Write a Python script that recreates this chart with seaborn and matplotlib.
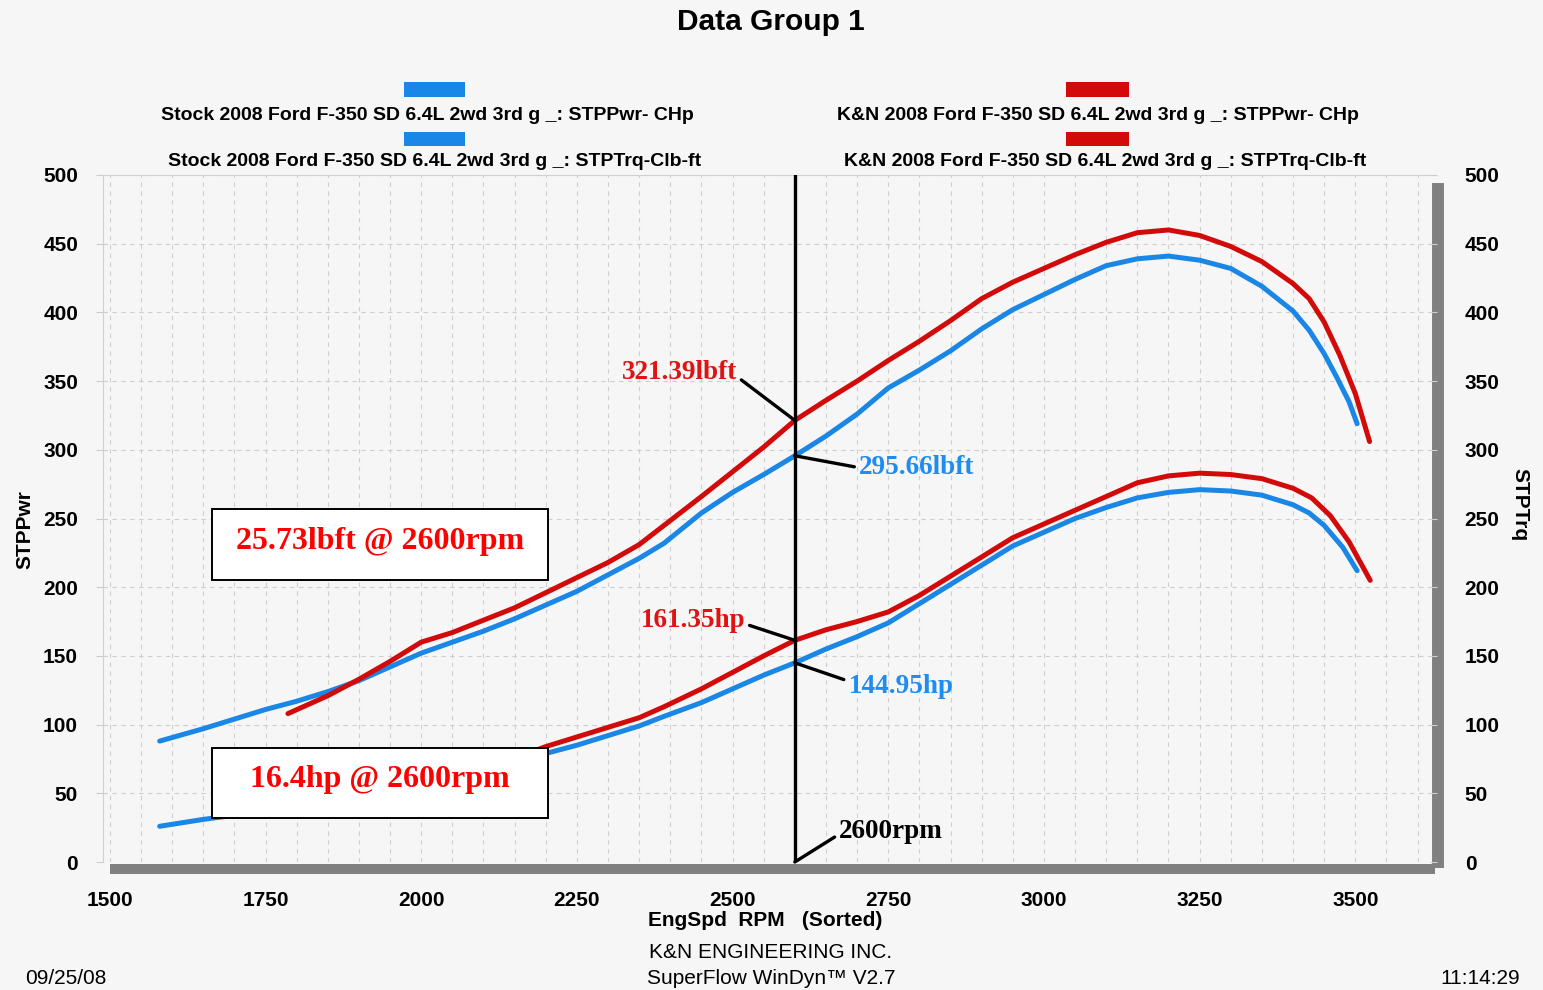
import matplotlib
matplotlib.use('Agg')
import matplotlib.pyplot as plt
from matplotlib.patches import Rectangle
from matplotlib.ticker import MultipleLocator
import seaborn as sns

# stock (blue) torque, lbft
stock_tq_rpm = [1580, 1650, 1700, 1750, 1800, 1850, 1900, 1950, 2000, 2050, 2100, 2150, 2200, 2250,
                2300, 2350, 2390, 2450, 2500, 2550, 2600, 2650, 2700, 2750, 2800, 2850, 2900, 2950,
                3000, 3050, 3100, 3150, 3200, 3250, 3300, 3350, 3400, 3426, 3450, 3470, 3490, 3503]
stock_tq = [88, 97, 104, 111, 117, 124, 132, 142, 152, 160, 168, 177, 187, 197,
            209, 221, 232, 254, 269, 282, 295.66, 310, 326, 345, 358, 372, 388, 402,
            413, 424, 434, 439, 441, 438, 432, 419, 401, 387, 370, 353, 335, 319]

# K&N (red) torque, lbft
kn_tq_rpm = [1786, 1850, 1900, 1950, 2000, 2050, 2100, 2150, 2200, 2250, 2300, 2350, 2390,
             2450, 2500, 2550, 2600, 2650, 2700, 2750, 2800, 2850, 2900, 2950, 3000, 3050,
             3100, 3150, 3200, 3250, 3300, 3350, 3400, 3426, 3450, 3475, 3500, 3523]
kn_tq = [108, 121, 133, 146, 160, 167, 176, 185, 196, 207, 218, 231, 245,
         266, 284, 302, 321.39, 336, 350, 365, 379, 394, 410, 422, 432, 442,
         451, 458, 460, 456, 448, 437, 421, 410, 393, 369, 341, 306]

# stock (blue) power, hp
stock_hp_rpm = [1580, 1650, 1700, 1750, 1800, 1900, 2000, 2100, 2200, 2250, 2300, 2350, 2390,
                2450, 2500, 2550, 2600, 2650, 2700, 2750, 2800, 2850, 2900, 2950, 3000, 3050,
                3100, 3150, 3200, 3250, 3300, 3350, 3400, 3426, 3450, 3480, 3503]
stock_hp = [26, 31, 34, 37, 40, 48, 57, 67, 79, 85, 92, 99, 106,
            116, 126, 136, 144.95, 155, 164, 174, 188, 202, 216, 230, 240, 250,
            258, 265, 269, 271, 270, 267, 260, 254, 245, 229, 212]

# K&N (red) power, hp
kn_hp_rpm = [1786, 1850, 1900, 2000, 2100, 2200, 2250, 2300, 2350, 2390, 2450, 2500, 2550,
             2600, 2650, 2700, 2750, 2800, 2850, 2900, 2950, 3000, 3050, 3100, 3150, 3200,
             3250, 3300, 3350, 3400, 3430, 3460, 3490, 3524]
kn_hp = [37, 41, 45, 55, 67, 84, 91, 98, 105, 113, 126, 138, 150,
         161.35, 169, 175, 182, 194, 208, 222, 236, 246, 256, 266, 276, 281,
         283, 282, 279, 272, 265, 252, 233, 205]

legend_labels = ['Stock 2008 Ford F-350 SD 6.4L 2wd 3rd g _: STPPwr- CHp',
                 'Stock 2008 Ford F-350 SD 6.4L 2wd 3rd g _: STPTrq-Clb-ft',
                 'K&N 2008 Ford F-350 SD 6.4L 2wd 3rd g _: STPPwr- CHp',
                 'K&N 2008 Ford F-350 SD 6.4L 2wd 3rd g _: STPTrq-Clb-ft']
mark_rpm = 2600

BLUE = '#1a86e6'
RED = '#d20a0a'
BG = '#f6f6f6'

sns.set_style('ticks')
plt.rcParams['font.family'] = ['Liberation Sans Narrow', 'Liberation Sans', 'DejaVu Sans']
plt.rcParams['text.color'] = 'black'

W, H = 1543, 990
fig = plt.figure(figsize=(W / 100, H / 100), dpi=100, facecolor=BG)


def fx(x):
    return x / W


def fy(y):
    return 1 - y / H


ax = fig.add_axes([fx(103), fy(862), fx(1430 - 103), (862 - 175) / H])
ax.set_facecolor(BG)

sns.lineplot(x=stock_tq_rpm, y=stock_tq, ax=ax, color=BLUE, lw=3.6, estimator=None, sort=False)
sns.lineplot(x=stock_hp_rpm, y=stock_hp, ax=ax, color=BLUE, lw=3.6, estimator=None, sort=False)
sns.lineplot(x=kn_tq_rpm, y=kn_tq, ax=ax, color=RED, lw=3.6, estimator=None, sort=False)
sns.lineplot(x=kn_hp_rpm, y=kn_hp, ax=ax, color=RED, lw=3.6, estimator=None, sort=False)

ax.set_xlim(1489, 3620)
ax.set_ylim(0, 500)
ax.xaxis.set_major_locator(MultipleLocator(250))
ax.xaxis.set_minor_locator(MultipleLocator(50))
ax.yaxis.set_major_locator(MultipleLocator(50))
ax.grid(which='both', axis='x', color='#cfcfcf', ls=(0, (4, 4)), lw=0.8)
ax.grid(which='major', axis='y', color='#cfcfcf', ls=(0, (4, 4)), lw=0.8)
ax.set_axisbelow(True)

for s in ['left', 'top']:
    ax.spines[s].set_color('#d0d0d0')
    ax.spines[s].set_linewidth(0.8)
ax.spines['bottom'].set_color('#808080')
ax.spines['bottom'].set_linewidth(7.2)
ax.spines['bottom'].set_position(('outward', 5))
ax.spines['bottom'].set_bounds(1508, 3620)
ax.spines['right'].set_color('#808080')
ax.spines['right'].set_linewidth(8.6)
ax.spines['right'].set_position(('outward', 6))
ax.spines['right'].set_bounds(0, 490)

ax.tick_params(axis='x', which='both', length=0, pad=16, labelsize=15, labelcolor='black')
ax.tick_params(axis='y', length=5, color='#cccccc', pad=13, labelsize=15, labelcolor='black')
for lab in ax.get_xticklabels() + ax.get_yticklabels():
    lab.set_fontweight('bold')
ax.set_xlabel('')
ax.set_ylabel('')

ax2 = ax.twinx()
ax2.set_ylim(0, 500)
ax2.yaxis.set_major_locator(MultipleLocator(50))
for s in ax2.spines.values():
    s.set_visible(False)
ax2.tick_params(axis='y', length=5, color='#cccccc', pad=20, labelsize=15, labelcolor='black')
for lab in ax2.get_yticklabels():
    lab.set_fontweight('bold')

# 2600 rpm marker line
ax.axvline(mark_rpm, color='black', lw=2.4, zorder=4)

ser = ['Liberation Serif', 'DejaVu Serif']
arrow = dict(arrowstyle='-', color='black', lw=2.4, shrinkA=1, shrinkB=0)
ax.annotate('%.2flbft' % kn_tq[kn_tq_rpm.index(mark_rpm)], xy=(mark_rpm, kn_tq[kn_tq_rpm.index(mark_rpm)]),
            xytext=(2507, 356), ha='right', va='center', color='#e01212', fontsize=19.5,
            fontweight='bold', family=ser, arrowprops=dict(arrow, relpos=(1, 0.35)), zorder=5)
ax.annotate('%.2flbft' % stock_tq[stock_tq_rpm.index(mark_rpm)], xy=(mark_rpm, stock_tq[stock_tq_rpm.index(mark_rpm)]),
            xytext=(2703, 287), ha='left', va='center', color='#1e8cf0', fontsize=19.5,
            fontweight='bold', family=ser, arrowprops=dict(arrow, relpos=(0, 0.5)), zorder=5)
ax.annotate('%.2fhp' % kn_hp[kn_hp_rpm.index(mark_rpm)], xy=(mark_rpm, kn_hp[kn_hp_rpm.index(mark_rpm)]),
            xytext=(2520, 176), ha='right', va='center', color='#e01212', fontsize=19.5,
            fontweight='bold', family=ser, arrowprops=dict(arrow, relpos=(1, 0.35)), zorder=5)
ax.annotate('%.2fhp' % stock_hp[stock_hp_rpm.index(mark_rpm)], xy=(mark_rpm, stock_hp[stock_hp_rpm.index(mark_rpm)]),
            xytext=(2686, 128), ha='left', va='center', color='#1e8cf0', fontsize=19.5,
            fontweight='bold', family=ser, arrowprops=dict(arrow, relpos=(0, 0.7)), zorder=5)
ax.annotate('%drpm' % mark_rpm, xy=(mark_rpm, 0), xytext=(2671, 22), ha='left', va='center',
            color='black', fontsize=19.5, fontweight='bold', family=ser,
            arrowprops=dict(arrow, relpos=(0, 0.4)), zorder=5)

# gain boxes
tq_gain = kn_tq[kn_tq_rpm.index(mark_rpm)] - stock_tq[stock_tq_rpm.index(mark_rpm)]
hp_gain = kn_hp[kn_hp_rpm.index(mark_rpm)] - stock_hp[stock_hp_rpm.index(mark_rpm)]
for (y0, y1), txt in [((509, 580), '%.2flbft @ %drpm' % (tq_gain, mark_rpm)),
                      ((748, 818), '%.1fhp @ %drpm' % (hp_gain, mark_rpm))]:
    fig.add_artist(Rectangle((fx(212), fy(y1)), fx(548 - 212), (y1 - y0) / H,
                             fc='white', ec='black', lw=1.4, zorder=5))
    fig.text(fx(380), fy((y0 + y1) / 2 - 3), txt, ha='center', va='center', color='#ff0000',
             fontsize=23, fontweight='bold', family=ser, zorder=6)

# legend swatches and texts
for (x0, x1), col, labs, cx in [((404, 465), BLUE, legend_labels[:2], (427, 435)),
                                 ((1066, 1129), RED, legend_labels[2:], (1098, 1105))]:
    for (y0, y1), lab, c, ty in zip([(82, 97), (132, 146)], labs, cx, (115, 162)):
        fig.add_artist(Rectangle((fx(x0), fy(y1)), fx(x1 - x0), (y1 - y0) / H, fc=col, ec='none'))
        fig.text(fx(c), fy(ty), lab, ha='center', va='center', fontsize=14, fontweight='bold')

fig.text(fx(771), fy(22), 'Data Group 1', ha='center', va='center', fontsize=21.5,
         fontweight='bold', family=['Liberation Sans', 'DejaVu Sans'])
fig.text(fx(765), fy(921), 'EngSpd  RPM   (Sorted)', ha='center', va='center', fontsize=15,
         fontweight='bold')
fig.text(fx(25), fy(530), 'STPPwr', ha='center', va='center', rotation=90, fontsize=15,
         fontweight='bold')
fig.text(fx(1520), fy(505), 'STPTrq', ha='center', va='center', rotation=270, fontsize=15,
         fontweight='bold')
fig.text(fx(771), fy(953), 'K&N ENGINEERING INC.', ha='center', va='center', fontsize=15)
fig.text(fx(771), fy(978), 'SuperFlow WinDyn\u2122 V2.7', ha='center', va='center', fontsize=15)
fig.text(fx(25), fy(978), '09/25/08', ha='left', va='center', fontsize=15)
fig.text(fx(1520), fy(978), '11:14:29', ha='right', va='center', fontsize=15)

fig.savefig('out.png', dpi=100, facecolor=BG)
